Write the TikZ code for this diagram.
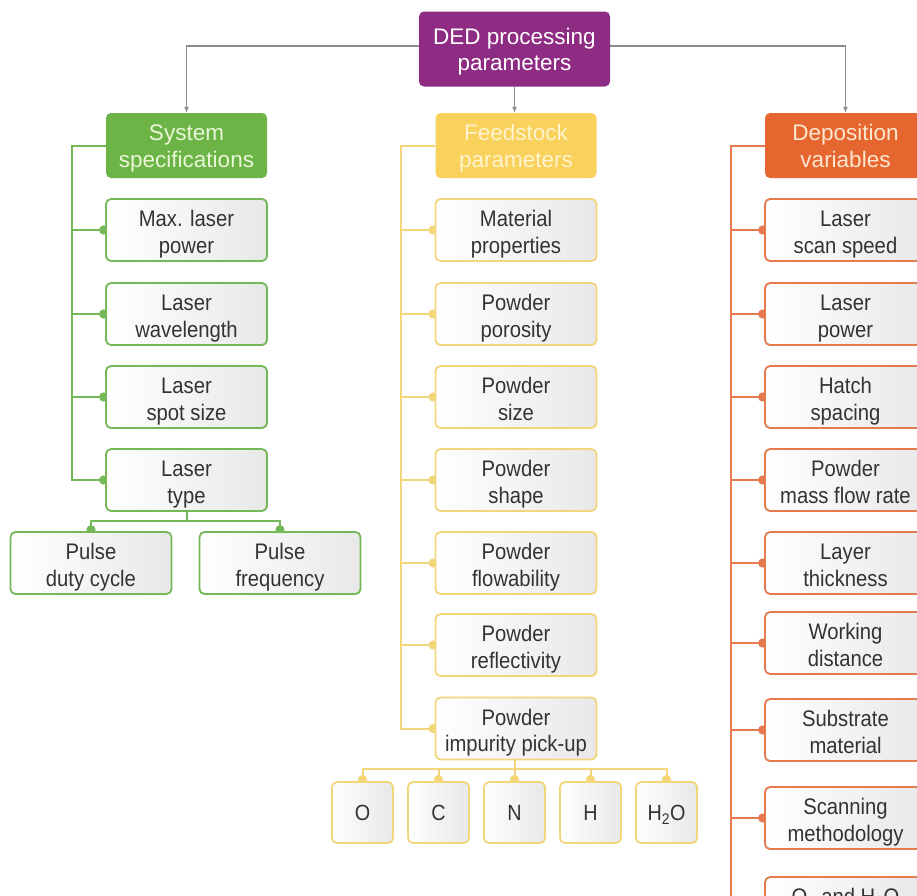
\documentclass[tikz,border=0pt]{standalone}
\usepackage{fontspec}
\setmainfont{Liberation Sans}
\newfontfamily\nodefont{Liberation Sans}[FakeStretch=0.9]
\usetikzlibrary{arrows.meta,backgrounds}
\definecolor{cpurple}{HTML}{8E2B83}
\definecolor{cgreen}{HTML}{6DB446}
\definecolor{cyellow}{HTML}{F8D25C}
\definecolor{corange}{HTML}{E5672F}
\definecolor{bgreen}{HTML}{74B857}
\definecolor{byellow}{HTML}{F3D67A}
\definecolor{borange}{HTML}{E57A4E}
\definecolor{tgreen}{HTML}{E9F6D8}
\definecolor{tyellow}{HTML}{FFF4CF}
\definecolor{torange}{HTML}{FCE6CF}
\definecolor{ctext}{HTML}{333333}
\definecolor{cgray}{HTML}{8C8C8C}
\begin{document}
\begin{tikzpicture}[x=1pt,y=-1pt,
  box/.style={rounded corners=5pt, line width=1.8pt, left color=white, right color=black!9,
    text=ctext, minimum width=161pt, minimum height=62pt, align=center,
    font=\nodefont\fontsize{22.5}{26.5}\selectfont, inner sep=0pt,
    text height=46pt, text depth=0pt},
  gbox/.style={box, draw=bgreen},
  ybox/.style={box, draw=byellow},
  obox/.style={box, draw=borange},
  sbox/.style={ybox, minimum width=61pt, minimum height=61pt,
    font=\nodefont\fontsize{22}{26}\selectfont, text height=16pt, text depth=0pt},
  head/.style={rounded corners=5pt, minimum width=161pt, minimum height=65pt, align=center,
    font=\fontsize{22.5}{26.5}\selectfont, inner sep=0pt, text height=43pt, text depth=0pt},
  garrow/.style={draw=cgray, line width=1.3pt, -{Latex[length=6pt,width=5pt]}},
  conn/.style={line width=2pt},
  tipc/.style={conn, -{Circle[length=9pt]}, shorten >=-3pt}
]
\useasboundingbox (0,0) rectangle (917,895);
\begin{pgfonlayer}{background}
\fill[white] (0,0) rectangle (917,895);
\end{pgfonlayer}

% top
\node[head, fill=cpurple, text=white, minimum width=191pt, minimum height=75pt] (top) at (514.5,49)
  {DED processing\\parameters};

% headers
\node[head, fill=cgreen, text=tgreen] (sys) at (186.5,145.5) {System\\specifications};
\node[head, fill=cyellow, text=tyellow] (feed) at (516,145.5) {Feedstock\\parameters};
\node[head, fill=corange, text=torange] (dep) at (845.5,145.5) {Deposition\\variables};

% green column
\node[gbox] (g1) at (186.5,230) {Max. laser\\power};
\node[gbox] (g2) at (186.5,314) {Laser\\wavelength};
\node[gbox] (g3) at (186.5,397) {Laser\\spot size};
\node[gbox] (g4) at (186.5,480) {Laser\\type};
\node[gbox] (p1) at (91,563) {Pulse\\duty cycle};
\node[gbox] (p2) at (280,563) {Pulse\\frequency};

% yellow column
\node[ybox] (y1) at (516,230) {Material\\properties};
\node[ybox] (y2) at (516,314) {Powder\\porosity};
\node[ybox] (y3) at (516,397) {Powder\\size};
\node[ybox] (y4) at (516,480) {Powder\\shape};
\node[ybox] (y5) at (516,563) {Powder\\flowability};
\node[ybox] (y6) at (516,645) {Powder\\reflectivity};
\node[ybox] (y7) at (516,728.5) {Powder\\impurity pick-up};
\node[sbox] (s1) at (362.5,812.5) {O};
\node[sbox] (s2) at (438.5,812.5) {C};
\node[sbox] (s3) at (514.5,812.5) {N};
\node[sbox] (s4) at (590.5,812.5) {H};
\node[sbox] (s5) at (666.5,812.5) {H\textsubscript{2}O};

% orange column
\node[obox] (o1) at (845.5,230) {Laser\\scan speed};
\node[obox] (o2) at (845.5,314) {Laser\\power};
\node[obox] (o3) at (845.5,397) {Hatch\\spacing};
\node[obox] (o4) at (845.5,480) {Powder\\mass flow rate};
\node[obox] (o5) at (845.5,563) {Layer\\thickness};
\node[obox] (o6) at (845.5,643) {Working\\distance};
\node[obox] (o7) at (845.5,730) {Substrate\\material};
\node[obox] (o8) at (845.5,818) {Scanning\\methodology};
\node[obox] (o9) at (845.5,908) {O\textsubscript{2} and H\textsubscript{2}O\\\mbox{}};

\coordinate (gs) at (72,145.5);
\coordinate (ys) at (401,145.5);
\coordinate (os) at (731,145.5);
\coordinate (oend) at (731,900);
\coordinate (gb) at (186.5,521);
\coordinate (yb) at (514.5,769);
\coordinate (tl) at (419,46);
\coordinate (tr) at (610,46);

\begin{pgfonlayer}{background}
% top arrows
\draw[garrow] (tl) -| (sys.north);
\draw[garrow] (tr) -| (dep.north);
\draw[garrow] (top.south) -- (top.south |- feed.north);

% green
\draw[conn, bgreen] (sys.west) -- (gs) |- (g4.west);
\foreach \n in {g1,g2,g3,g4} \draw[tipc, bgreen] (gs |- \n.west) -- (\n.west);
\draw[conn, bgreen] (g4.south) -- (gb);
\draw[tipc, bgreen] (gb) -| (p1.north);
\draw[tipc, bgreen] (gb) -| (p2.north);

% yellow
\draw[conn, byellow] (feed.west) -- (ys) |- (y7.west);
\foreach \n in {y1,y2,y3,y4,y5,y6,y7} \draw[tipc, byellow] (ys |- \n.west) -- (\n.west);
\draw[conn, byellow] (y7.south -| yb) -- (yb);
\foreach \n in {s1,s2,s3,s4,s5} \draw[tipc, byellow] (yb) -| (\n.north);

% orange
\draw[conn, borange] (dep.west) -- (os) -- (oend);
\foreach \n in {o1,o2,o3,o4,o5,o6,o7,o8} \draw[tipc, borange] (os |- \n.west) -- (\n.west);
\end{pgfonlayer}
\end{tikzpicture}
\end{document}
